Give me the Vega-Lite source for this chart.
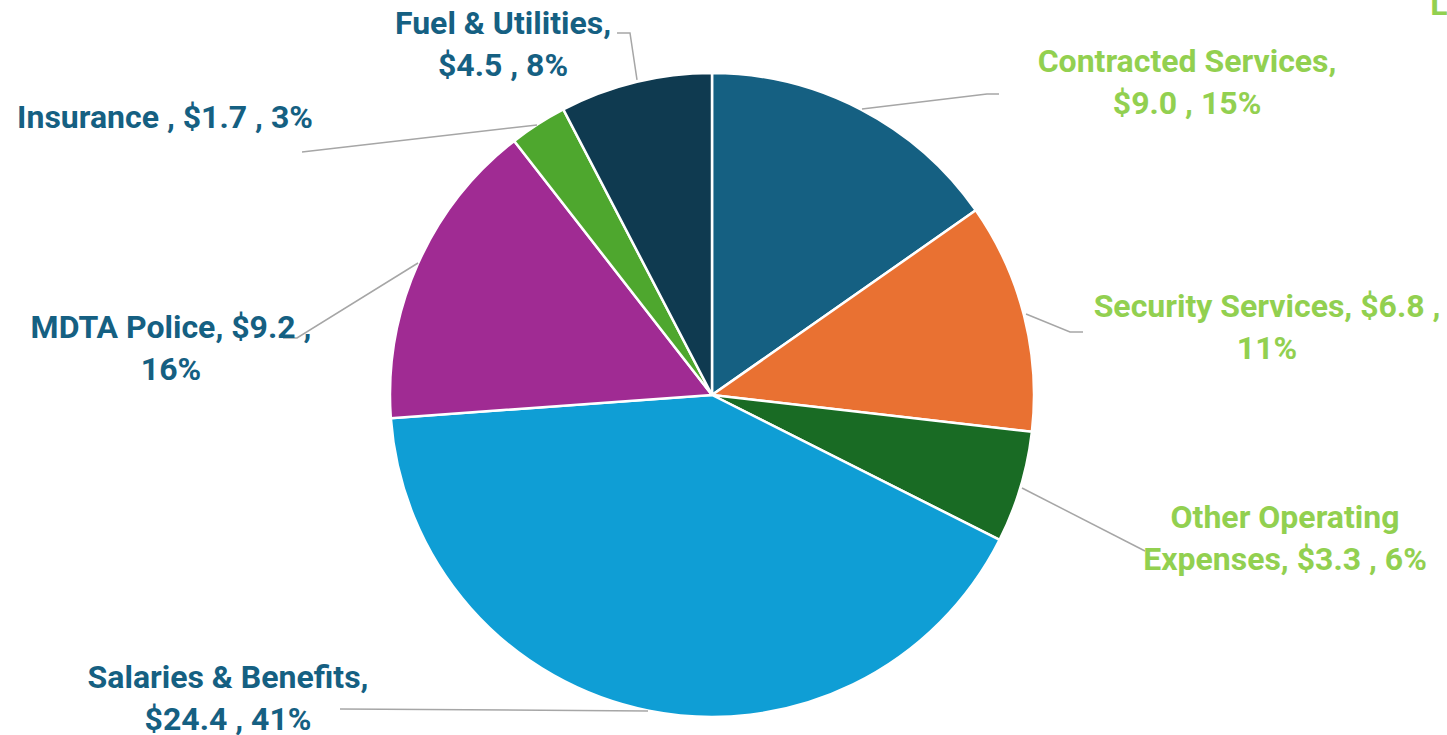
{
  "$schema": "https://vega.github.io/schema/vega-lite/v6.json",
  "width": 1447,
  "height": 735,
  "padding": 0,
  "autosize": {"type": "none"},
  "background": "white",
  "config": {"view": {"stroke": null}},
  "datasets": {
    "slices": [
      {"category": "Contracted Services", "value": 9.0, "idx": 1},
      {"category": "Security Services", "value": 6.8, "idx": 2},
      {"category": "Other Operating Expenses", "value": 3.3, "idx": 3},
      {"category": "Salaries & Benefits", "value": 24.4, "idx": 4},
      {"category": "MDTA Police", "value": 9.2, "idx": 5},
      {"category": "Insurance", "value": 1.7, "idx": 6},
      {"category": "Fuel & Utilities", "value": 4.5, "idx": 7}
    ],
    "leaders": [
      {"id": "c", "seq": 1, "x": 0.4658, "y": 0.8882},
      {"id": "c", "seq": 2, "x": 0.8540, "y": 0.9348},
      {"id": "c", "seq": 3, "x": 0.8913, "y": 0.9348},
      {"id": "s", "seq": 1, "x": 0.9752, "y": 0.2516},
      {"id": "s", "seq": 2, "x": 1.1118, "y": 0.1957},
      {"id": "s", "seq": 3, "x": 1.1522, "y": 0.1957},
      {"id": "o", "seq": 1, "x": 0.9627, "y": -0.2888},
      {"id": "o", "seq": 2, "x": 1.3447, "y": -0.4845},
      {"id": "sal", "seq": 1, "x": -0.1988, "y": -0.9814},
      {"id": "sal", "seq": 2, "x": -1.1553, "y": -0.9752},
      {"id": "m", "seq": 1, "x": -0.9130, "y": 0.4099},
      {"id": "m", "seq": 2, "x": -1.2888, "y": 0.1770},
      {"id": "m", "seq": 3, "x": -1.3323, "y": 0.1770},
      {"id": "i", "seq": 1, "x": -0.5435, "y": 0.8385},
      {"id": "i", "seq": 2, "x": -1.2733, "y": 0.7547},
      {"id": "f", "seq": 1, "x": -0.2329, "y": 0.9783},
      {"id": "f", "seq": 2, "x": -0.2547, "y": 1.1242},
      {"id": "f", "seq": 3, "x": -0.2950, "y": 1.1242}
    ],
    "labels": [
      {"text": "Contracted Services,\n$9.0 , 15%", "side": "right", "x": 1.4752, "y": 1.0031},
      {"text": "Security Services,  $6.8 ,\n11%", "side": "right", "x": 1.7236, "y": 0.2422},
      {"text": "Other Operating\nExpenses,  $3.3 , 6%", "side": "right", "x": 1.7795, "y": -0.4130},
      {"text": "Salaries & Benefits,\n$24.4 , 41%", "side": "left", "x": -1.5031, "y": -0.9099},
      {"text": "MDTA  Police,  $9.2 ,\n16%", "side": "left", "x": -1.6801, "y": 0.1770},
      {"text": "Insurance  ,  $1.7 , 3%", "side": "left", "x": -1.6988, "y": 0.8292},
      {"text": "Fuel & Utilities,\n$4.5 , 8%", "side": "left", "x": -0.6491, "y": 1.1211},
      {"text": "L", "side": "right", "x": 2.2578, "y": 1.1801}
    ]
  },
  "resolve": {"scale": {"color": "independent"}},
  "layer": [
    {
      "data": {"name": "slices"},
      "mark": {"type": "arc", "radius": 322, "stroke": "white", "strokeWidth": 2.5},
      "encoding": {
        "theta": {"field": "value", "type": "quantitative", "stack": true},
        "order": {"field": "idx", "type": "quantitative"},
        "color": {
          "field": "category",
          "type": "nominal",
          "legend": null,
          "scale": {
            "domain": ["Contracted Services", "Security Services", "Other Operating Expenses", "Salaries & Benefits", "MDTA Police", "Insurance", "Fuel & Utilities"],
            "range": ["#156082", "#e97132", "#196b24", "#0f9ed5", "#a02b93", "#4ea72e", "#0f3a50"]
          }
        },
        "x": {"datum": 0, "type": "quantitative", "axis": null, "scale": {"domain": [-2.2112, 2.2826], "nice": false, "zero": false}},
        "y": {"datum": 0, "type": "quantitative", "axis": null, "scale": {"domain": [-1.0559, 1.2267], "nice": false, "zero": false}}
      }
    },
    {
      "data": {"name": "leaders"},
      "mark": {"type": "line", "color": "#a6a6a6", "strokeWidth": 1.5},
      "encoding": {
        "x": {"field": "x", "type": "quantitative", "axis": null, "scale": {"domain": [-2.2112, 2.2826], "nice": false, "zero": false}},
        "y": {"field": "y", "type": "quantitative", "axis": null, "scale": {"domain": [-1.0559, 1.2267], "nice": false, "zero": false}},
        "detail": {"field": "id", "type": "nominal"},
        "order": {"field": "seq", "type": "quantitative"}
      }
    },
    {
      "data": {"name": "labels"},
      "mark": {"type": "text", "font": "Roboto", "fontWeight": "bold", "fontSize": 32, "lineHeight": 42, "lineBreak": "\n", "align": "center", "baseline": "alphabetic"},
      "encoding": {
        "x": {"field": "x", "type": "quantitative", "axis": null, "scale": {"domain": [-2.2112, 2.2826], "nice": false, "zero": false}},
        "y": {"field": "y", "type": "quantitative", "axis": null, "scale": {"domain": [-1.0559, 1.2267], "nice": false, "zero": false}},
        "text": {"field": "text", "type": "nominal"},
        "color": {"field": "side", "type": "nominal", "legend": null, "scale": {"domain": ["left", "right"], "range": ["#156082", "#92d050"]}}
      }
    }
  ]
}
